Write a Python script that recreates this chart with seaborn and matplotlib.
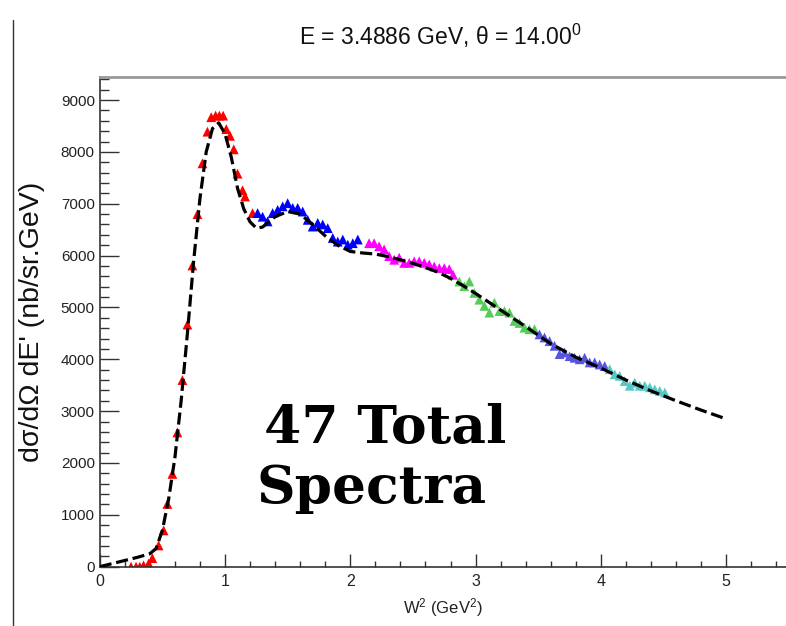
import numpy as np
import pandas as pd
import matplotlib
matplotlib.use("Agg")
import matplotlib.pyplot as plt
import seaborn as sns
from matplotlib import font_manager
from matplotlib.lines import Line2D
from matplotlib.ticker import MultipleLocator

# ---------------- data ----------------
red_w2 = [0.25, 0.29, 0.32, 0.35, 0.39, 0.42, 0.47, 0.51, 0.54, 0.58, 0.62, 0.66, 0.70, 0.74,
          0.78, 0.82, 0.86, 0.89, 0.925, 0.955, 0.985, 1.01, 1.04, 1.07, 1.10, 1.14, 1.16, 1.22]
red_xs = [0, 0, 0, 25, 60, 165, 410, 700, 1210, 1790, 2590, 3600, 4670, 5810,
          6800, 7780, 8390, 8670, 8700, 8700, 8700, 8440, 8310, 8050, 7580, 7260, 7140, 6820]

blue_w2 = [1.26, 1.30, 1.34, 1.38, 1.42, 1.46, 1.50, 1.54, 1.58, 1.62, 1.66, 1.70, 1.74, 1.78,
           1.82, 1.86, 1.90, 1.94, 1.98, 2.02, 2.06]
blue_xs = [6820, 6750, 6660, 6820, 6880, 6950, 7010, 6920, 6920, 6850, 6690, 6560, 6630, 6600,
           6530, 6340, 6270, 6310, 6210, 6240, 6310]

magenta_w2 = [2.15, 2.19, 2.23, 2.27, 2.31, 2.35, 2.39, 2.43, 2.47, 2.51, 2.55, 2.59, 2.63, 2.67,
              2.71, 2.75, 2.79, 2.82]
magenta_xs = [6240, 6240, 6180, 6120, 5990, 5920, 5960, 5860, 5860, 5890, 5890, 5860, 5830, 5790,
              5760, 5760, 5740, 5630]

green_w2 = [2.87, 2.91, 2.95, 2.99, 3.03, 3.07, 3.11, 3.15, 3.19, 3.23, 3.27, 3.31, 3.35, 3.39,
            3.43, 3.47]
green_xs = [5500, 5410, 5500, 5280, 5150, 5030, 4900, 5090, 4930, 4930, 4900, 4740, 4700, 4610,
            4580, 4580]

violet_w2 = [3.51, 3.55, 3.59, 3.63, 3.67, 3.71, 3.75, 3.79, 3.83, 3.87, 3.91, 3.95, 3.99, 4.03]
violet_xs = [4480, 4420, 4350, 4260, 4100, 4130, 4060, 4030, 4000, 4030, 3940, 3940, 3900, 3870]

cyan_w2 = [4.07, 4.11, 4.15, 4.19, 4.23, 4.27, 4.31, 4.35, 4.39, 4.43, 4.47, 4.51]
cyan_xs = [3810, 3710, 3680, 3580, 3490, 3550, 3490, 3490, 3460, 3420, 3390, 3360]

curve_w2 = [0.0, 0.1, 0.2, 0.3, 0.4, 0.45, 0.5, 0.55, 0.6, 0.65, 0.7, 0.75, 0.8, 0.85, 0.9,
            0.95, 1.0, 1.05, 1.1, 1.15, 1.2, 1.25, 1.3, 1.35, 1.4, 1.5, 1.6, 1.7, 1.8, 1.9,
            2.0, 2.1, 2.2, 2.3, 2.4, 2.5, 2.6, 2.7, 2.8, 2.9, 3.0, 3.2, 3.4, 3.6, 3.8, 4.0,
            4.2, 4.4, 4.6, 4.8, 5.0]
curve_xs = [0, 60, 120, 180, 250, 350, 700, 1300, 2100, 3200, 4500, 5900, 7100, 8000, 8450,
            8560, 8350, 7900, 7300, 6900, 6650, 6530, 6550, 6650, 6750, 6850, 6800, 6600, 6380,
            6200, 6080, 6050, 6030, 5980, 5920, 5850, 5770, 5680, 5560, 5420, 5270, 4950, 4630,
            4300, 4040, 3830, 3600, 3390, 3200, 3020, 2850]

spectra = ["s1", "s2", "s3", "s4", "s5", "s6"]
colors = ["#ff0000", "#0000ff", "#ff00ff", "#55cc55", "#5555dd", "#55c8c8"]

title_text = r"E = 3.4886 GeV, $\theta$ = 14.00$^{0}$"
xlabel_text = r"W$^{2}$ (GeV$^{2}$)"
ylabel_text = "d\u03c3/d\u03a9 dE' (nb/sr.GeV)"
note_line1 = "47 Total"
note_line2 = "Spectra"

# ---------------- table ----------------
groups = [(red_w2, red_xs), (blue_w2, blue_xs), (magenta_w2, magenta_xs),
          (green_w2, green_xs), (violet_w2, violet_xs), (cyan_w2, cyan_xs)]
frames = []
for name, (w, s) in zip(spectra, groups):
    frames.append(pd.DataFrame({"w2": w, "xs": s, "spectrum": name}))
df = pd.concat(frames, ignore_index=True)
curve_df = pd.DataFrame({"w2": curve_w2, "xs": curve_xs})

# ---------------- style ----------------
sns.set_theme(style="white")
names = {f.name for f in font_manager.fontManager.ttflist}
narrow = "Liberation Sans Narrow" if "Liberation Sans Narrow" in names else "Liberation Sans"
plt.rcParams["font.family"] = ["Liberation Sans", "DejaVu Sans"]
plt.rcParams["mathtext.fontset"] = "custom"
plt.rcParams["mathtext.rm"] = narrow
plt.rcParams["mathtext.it"] = narrow

W, H = 786, 626
fig = plt.figure(figsize=(W / 100, H / 100), dpi=100)
x0_px, xunit = 99.7, 125.3
y0_px, yunit = 566.7, 51.85 / 1000.0
top_px = 77
ax = fig.add_axes([x0_px / W, (H - y0_px) / H, (W - x0_px) / W, (y0_px - top_px) / H])

sns.scatterplot(data=df, x="w2", y="xs", hue="spectrum", palette=dict(zip(spectra, colors)),
                marker="^", s=50, linewidth=0, legend=False, ax=ax, zorder=2)
sns.lineplot(data=curve_df, x="w2", y="xs", color="black", linewidth=2.3,
             linestyle=(0, (3.8, 1.5)), ax=ax, zorder=3)

ax.set_xlim(0, (W - x0_px) / xunit)
ax.set_ylim(0, (y0_px - top_px) / yunit)
ax.set_xlabel("")
ax.set_ylabel("")

ax.xaxis.set_major_locator(MultipleLocator(1))
ax.xaxis.set_minor_locator(MultipleLocator(0.2))
ax.yaxis.set_major_locator(MultipleLocator(1000))
ax.yaxis.set_minor_locator(MultipleLocator(200))
ax.tick_params(axis="x", which="major", direction="in", length=9.5, width=1, color="#333333",
               pad=5, labelsize=11.5, bottom=True, top=False)
ax.tick_params(axis="x", which="minor", direction="in", length=4.5, width=1, color="#333333",
               bottom=True, top=False)
ax.tick_params(axis="y", which="major", direction="in", length=13.5, width=1, color="#333333",
               pad=3.5, labelsize=11, left=True, right=False)
ax.tick_params(axis="y", which="minor", direction="in", length=6.5, width=1, color="#333333",
               left=True, right=False)
for lab in ax.get_xticklabels() + ax.get_yticklabels():
    lab.set_fontfamily([narrow, "DejaVu Sans"])
    lab.set_color("#222222")

ax.spines["right"].set_visible(False)
ax.spines["left"].set_color("#333333")
ax.spines["bottom"].set_color("#333333")
ax.spines["left"].set_linewidth(1.2)
ax.spines["bottom"].set_linewidth(1.2)
ax.spines["top"].set_color("#999999")
ax.spines["top"].set_linewidth(2.0)

fig.text(440 / W, 1 - 45 / H, title_text, ha="center", va="baseline", fontsize=16.5,
         family=[narrow, "DejaVu Sans"], color="#111111")
fig.text(443 / W, 1 - 608 / H, xlabel_text, ha="center", va="center", fontsize=12,
         family=["Liberation Sans", "DejaVu Sans"], color="#222222")
fig.text(32 / W, 1 - 322 / H, ylabel_text, ha="center", va="center", rotation=90,
         fontsize=20.5, family=["Liberation Sans", "DejaVu Sans"], color="#111111")

fig.text(264 / W, 1 - 443 / H, note_line1, ha="left", va="baseline", fontsize=38.5,
         family=["DejaVu Serif"], weight="bold", color="black")
fig.text(257 / W, 1 - 503 / H, note_line2, ha="left", va="baseline", fontsize=38.5,
         family=["DejaVu Serif"], weight="bold", color="black")

fig.add_artist(Line2D([12.5 / W, 12.5 / W], [0, 1 - 20 / H], transform=fig.transFigure,
                      color="#333333", linewidth=1.0))

fig.savefig("out.png", dpi=100)
